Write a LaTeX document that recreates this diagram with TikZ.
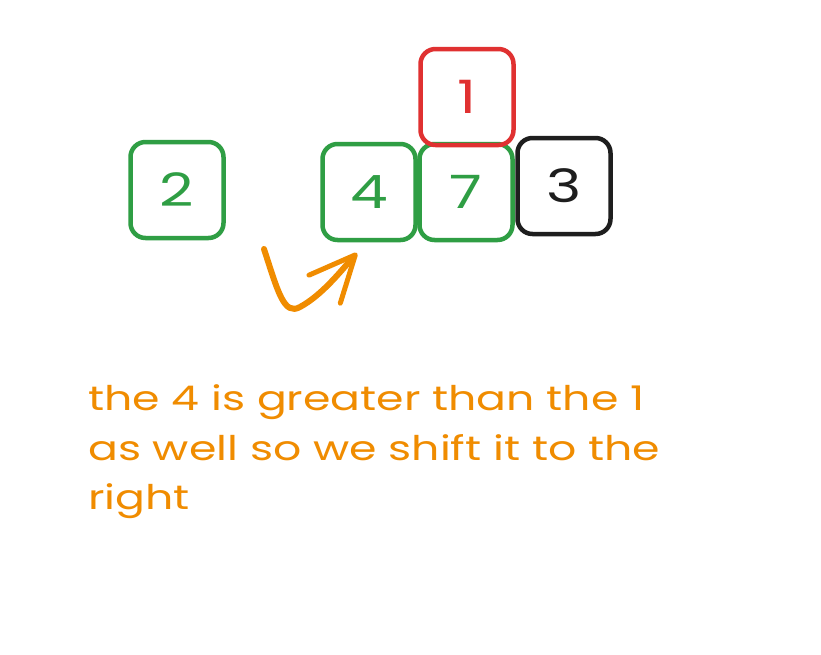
\documentclass[tikz,border=0pt]{standalone}
\usepackage{fontspec}
\newfontfamily\handfont[FakeStretch=1.3]{Poppins}
\usetikzlibrary{arrows.meta}

\definecolor{cellgreen}{HTML}{2F9E44}
\definecolor{cellred}{HTML}{E03131}
\definecolor{cellblack}{HTML}{1E1E1E}
\definecolor{noteorange}{HTML}{F08C00}

\begin{document}
\begin{tikzpicture}[x=1pt, y=-1pt,
        cell/.style={draw, rectangle, rounded corners=15pt, line width=4.5pt,
                     minimum width=93pt, minimum height=96pt,
                     font=\handfont\fontsize{46}{46}\selectfont},
        note/.style={anchor=base west, text=noteorange, inner sep=0pt,
                     font=\handfont\fontsize{34}{34}\selectfont}]
                \useasboundingbox[fill=white] (0,0) rectangle (821,654);

                % Array cells:
                \node[cell, cellgreen, text=cellgreen] (two) at (177,190) {2};
                \node[cell, cellgreen, text=cellgreen] (four) at (369,192) {4};
                \node[cell, cellgreen, text=cellgreen] (seven) at (466,192) {7};
                \node[cell, cellblack, text=cellblack] (three) at (564,186) {3};

                % Key being inserted:
                \node[cell, cellred, text=cellred] (one) at (467,97) {1};

                % Shift arrow:
                \coordinate (swoopstart) at (264,249);
                \coordinate (swoopend) at (357,253);
                \draw[noteorange, line width=6pt, line cap=round,
                      -{Straight Barb[length=46pt, width=42pt, line width=5pt, round]}]
                    (swoopstart) .. controls (278,292) and (284,316) .. (300,307)
                    .. controls (322,295) and (340,272) .. (swoopend);

                % Note:
                \node[note] (noteone) at (88,410) {the 4 is greater than the 1};
                \node[note] (notetwo) at (88,460) {as well so we shift it to the};
                \node[note] (notethree) at (88,509) {right};
            \end{tikzpicture}
\end{document}
